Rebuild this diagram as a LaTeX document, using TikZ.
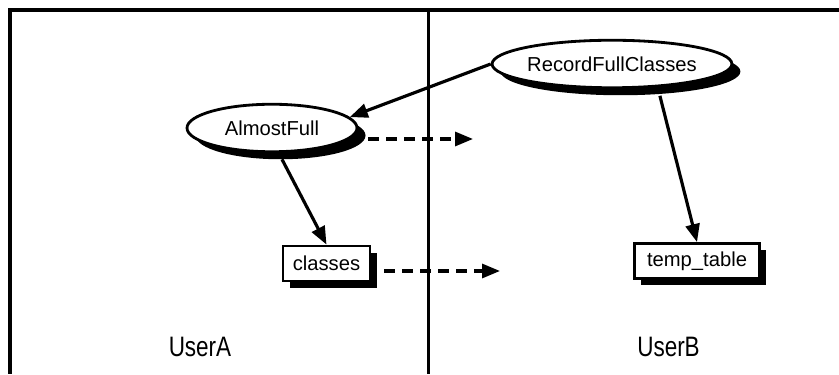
\documentclass[tikz,border=0pt]{standalone}
\usepackage{fontspec}
\setmainfont{Liberation Sans}
\newfontfamily\userfont{Liberation Sans}[FakeStretch=0.8]
\usetikzlibrary{arrows.meta, shapes.geometric, shadows}

\begin{document}
\begin{tikzpicture}[
  proc/.style={ellipse, draw, line width=1.6pt, fill=white, minimum width=3.4cm, minimum height=0.95cm, inner sep=0pt, font=\fontsize{11.5}{13}\selectfont, drop shadow={shadow xshift=0.17cm, shadow yshift=-0.15cm, fill=black, opacity=1}},
  tbl/.style={rectangle, draw, line width=1.6pt, fill=white, minimum height=0.7cm, inner sep=0pt, font=\fontsize{11.5}{13}\selectfont, drop shadow={shadow xshift=0.13cm, shadow yshift=-0.14cm, fill=black, opacity=1}},
  arr/.style={-{Triangle[length=3.6mm, width=2.8mm]}, line width=1.8pt},
  dasharr/.style={arr, dash pattern=on 2.2mm off 1.4mm},
  usr/.style={font=\userfont\fontsize{16}{18}\selectfont, anchor=base}]
\useasboundingbox (0,0) rectangle (16.78,7.48);
\draw[line width=2pt] (16.78,7.28) -- (0.2,7.28) -- (0.2,0);
\draw[line width=1.7pt] (8.56,7.28) -- (8.56,0);
\node[proc, minimum width=3.8cm] (rfc) at (12.24,6.2) {RecordFullClasses};
\node[proc] (af) at (5.44,4.92) {AlmostFull};
\node[tbl, minimum width=1.74cm] (cls) at (6.53,2.21) {classes};
\node[tbl, minimum width=2.5cm] (tmp) at (13.94,2.26) {temp\_table};
\node[usr] (ua) at (4.0,0.34) {UserA};
\node[usr] (ub) at (13.37,0.34) {UserB};
\coordinate (afout) at (9.46,4.70);
\coordinate (clsout) at (10.0,2.06);
\draw[arr] (rfc.west) -- (af.8);
\draw[arr, shorten <=4pt] (af.-75) -- (cls.north);
\draw[arr, shorten <=5pt] (rfc.-27) -- (tmp.north);
\draw[dasharr, shorten <=0.2cm] (af.east |- afout) -- (afout);
\draw[dasharr, shorten <=0.26cm] (cls.east |- clsout) -- (clsout);
\end{tikzpicture}
\end{document}
